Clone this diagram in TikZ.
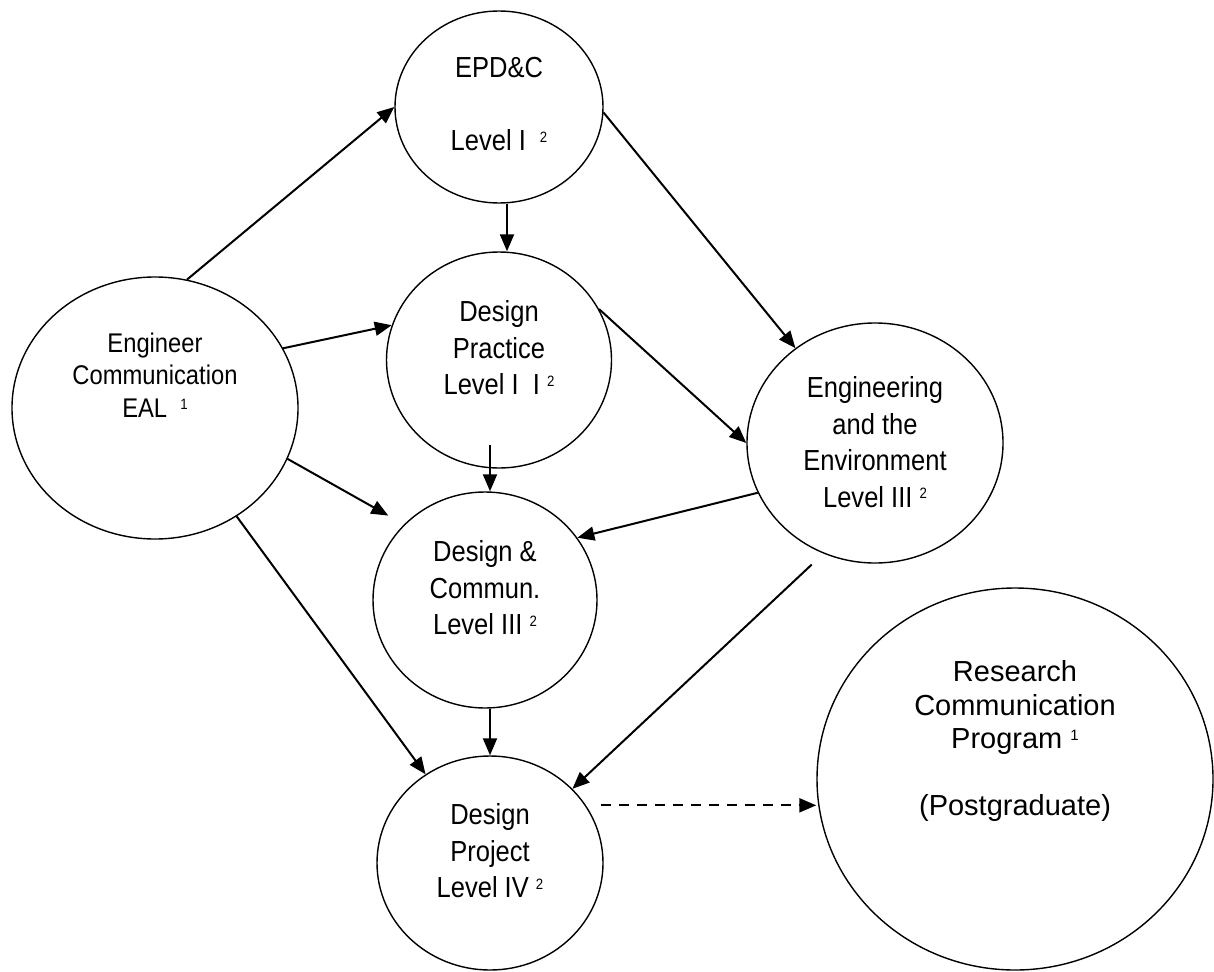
\documentclass[tikz,border=0pt]{standalone}
\usepackage{fontspec}
\setmainfont{Liberation Sans}
\newfontfamily\narrowfont[FakeStretch=0.88]{Liberation Sans}
\usepackage{tikz}
\usetikzlibrary{shapes,arrows.meta}
\tikzstyle{course} = [ellipse,draw=black,line width=1.4pt,inner sep=0pt]
\tikzstyle{coursetext} = [align=center,inner sep=0pt,font=\narrowfont\fontsize{29}{36.5}\selectfont]
\tikzstyle{arrow} = [color=black,line width=2pt,-{Triangle[length=17pt,width=14pt]}]
\newcommand{\lvlnote}[1]{{\fontsize{15}{15}\selectfont\raisebox{0.55em}{#1}}}

\begin{document}
\begin{tikzpicture}[x=1pt,y=-1pt]
 	\useasboundingbox (0,0) rectangle (1214,971);

 	%courses
 	\node (EPD) [course,minimum width=208pt,minimum height=192pt,
 		label={[coursetext,yshift=3pt]center:{EPD\&C\\[36.5pt]Level I\hspace{14pt}\lvlnote{2}}}] at (499,107) {};
 	\node (DP) [course,minimum width=225pt,minimum height=216pt,
 		label={[coursetext,yshift=12pt]center:{Design\\Practice\\Level I\ \ I\ \lvlnote{2}}}] at (499,360) {};
 	\node (EC) [course,minimum width=286pt,minimum height=262pt,
 		label={[coursetext,yshift=33pt,font=\narrowfont\fontsize{27}{32.5}\selectfont]center:{Engineer\\Communication\\EAL\ \ \lvlnote{1}}}] at (155,408) {};
 	\node (EE) [course,minimum width=256pt,minimum height=240pt,
 		label={[coursetext,yshift=1pt]center:{Engineering\\and the\\Environment\\Level III\ \lvlnote{2}}}] at (875,443) {};
 	\node (DC) [course,minimum width=224pt,minimum height=216pt,
 		label={[coursetext,yshift=12pt]center:{Design \&\\Commun.\\Level III\ \lvlnote{2}}}] at (485,600) {};
 	\node (DPJ) [course,minimum width=226pt,minimum height=214pt,
 		label={[coursetext,yshift=12pt]center:{Design\\Project\\Level IV\ \lvlnote{2}}}] at (490,863) {};
 	\node (RCP) [course,minimum width=396pt,minimum height=382pt,
 		label={[coursetext,yshift=38pt,font=\fontsize{29}{33.5}\selectfont]center:{Research\\Communication\\Program\ \lvlnote{1}\\[33.5pt](Postgraduate)}}] at (1015,779) {};

 	%prerequisites
 	\draw [arrow] (EC.76) -- (EPD.west);
 	\draw [arrow] (EC.25) -- (DP.162);
 	\draw [arrow,shorten >=18pt] (EC.-21) -- (DC.137);
 	\draw [arrow] (EC.-53) -- (DPJ.126);
 	\draw [arrow] (EPD.-3) -- (EE.130);
 	\draw [arrow] ([xshift=8pt]EPD.south) -- ([xshift=8pt]DP.north);
 	\draw [arrow] (DP.27) -- (EE.west);
 	\draw [arrow] ([xshift=-9pt,yshift=24pt]DP.south) -- ([xshift=5pt]DC.north);
 	\draw [arrow] (EE.-157) -- (DC.34);
 	\draw [arrow] ([xshift=5pt]DC.south) -- (DPJ.north);
 	\draw [arrow,shorten <=16pt] (EE.-115) -- (DPJ.42);
 	%postgraduate
 	\draw [arrow,dash pattern=on 10pt off 8pt,shorten <=15pt] (DPJ.31) -- (DPJ.31 -| RCP.west);
 \end{tikzpicture}
\end{document}
